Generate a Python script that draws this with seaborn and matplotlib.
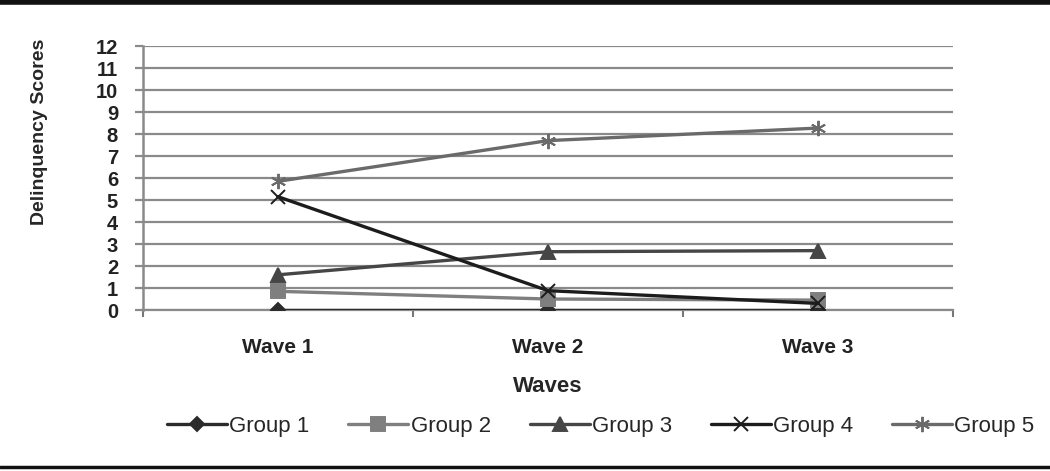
import seaborn as sns
import matplotlib.pyplot as plt
import pandas as pd
from matplotlib.lines import Line2D

waves = ["Wave 1", "Wave 2", "Wave 3"]
groups = ["Group 1", "Group 2", "Group 3", "Group 4", "Group 5"]
group1 = [0.0, 0.0, 0.0]
group2 = [0.85, 0.5, 0.45]
group3 = [1.6, 2.65, 2.7]
group4 = [5.15, 0.88, 0.3]
group5 = [5.85, 7.7, 8.27]
y_ticks = list(range(0, 13))

sns.set_theme(style="white")
plt.rcParams["font.family"] = ["Liberation Sans Narrow", "Liberation Sans", "DejaVu Sans"]

colors = {"Group 1": "#2b2b2b", "Group 2": "#7f7f7f", "Group 3": "#464646",
          "Group 4": "#1c1c1c", "Group 5": "#6a6a6a"}
markers = {"Group 1": "D", "Group 2": "s", "Group 3": "^",
           "Group 4": "x", "Group 5": (6, 2, 0)}
msize = {"Group 1": 7, "Group 2": 10, "Group 3": 10, "Group 4": 10, "Group 5": 11}

rows = []
for g, vals in zip(groups, [group1, group2, group3, group4, group5]):
    for i, v in enumerate(vals):
        rows.append({"group": g, "x": i, "score": v})
df = pd.DataFrame(rows)

fig = plt.figure(figsize=(10.5, 4.71), dpi=100)
ax = fig.add_axes([0.1362, 0.3418, 0.7714, 0.5605])

# horizontal gridlines
for y in y_ticks:
    ax.axhline(y, color="#8a8a8a", lw=1.6, zorder=0)

for g in groups:
    sub = df[df["group"] == g]
    sns.lineplot(data=sub, x="x", y="score", ax=ax, color=colors[g], lw=2.4,
                 marker=markers[g], markersize=msize[g], mec=colors[g],
                 mfc=colors[g], mew=1.4, label=g, zorder=3)

ax.set_xlim(-0.5, 2.5)
ax.set_ylim(0, 12)
ax.set_yticks(y_ticks)
ax.set_yticklabels([str(t) for t in y_ticks], fontsize=14.5, fontweight="bold",
                   color="#222222")
ax.set_xticks([-0.5, 0.5, 1.5, 2.5])
ax.set_xticklabels([])
ax.set_xticks([0, 1, 2], minor=True)
ax.set_xticklabels(waves, minor=True, fontsize=15, fontweight="bold", color="#222222")
ax.tick_params(axis="x", which="major", direction="out", length=5, width=1.5,
               color="#777777", bottom=True)
ax.tick_params(axis="x", which="minor", length=0, pad=20)
ax.tick_params(axis="y", direction="out", length=6, width=1.6, color="#8a8a8a",
               left=True, pad=12)

for s in ["top", "right"]:
    ax.spines[s].set_visible(False)
ax.spines["left"].set_color("#8a8a8a")
ax.spines["left"].set_linewidth(1.8)
ax.spines["bottom"].set_color("#8a8a8a")
ax.spines["bottom"].set_linewidth(1.6)

ax.set_xlabel("Waves", fontsize=16, fontweight="bold", labelpad=14)
ax.set_ylabel("Delinquency Scores", fontsize=14, fontweight="bold")
ax.yaxis.set_label_coords(-0.117, 0.675)

ax.legend(loc="upper center", bbox_to_anchor=(0.565, -0.325), ncol=5, frameon=False,
          fontsize=16, handlelength=2.7, columnspacing=1.75, handletextpad=0.1)

# top and bottom rules
fig.add_artist(Line2D([0, 1], [0.995, 0.995], color="#111111", lw=4))
fig.add_artist(Line2D([0, 1], [0.009, 0.009], color="#111111", lw=2.5))

fig.savefig("out.png", dpi=100)
